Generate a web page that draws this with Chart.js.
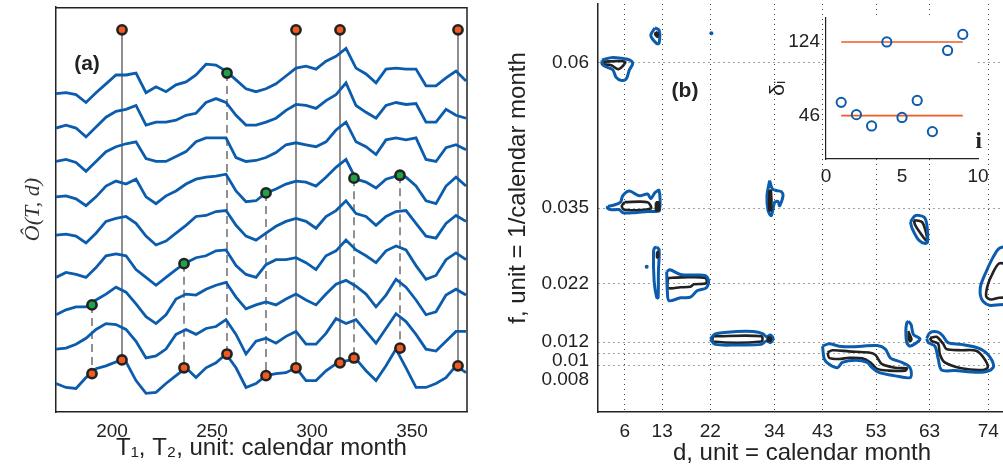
<!DOCTYPE html>
<html>
<head>
<meta charset="utf-8">
<script src="https://cdn.jsdelivr.net/npm/chart.js@4.4.1/dist/chart.umd.min.js"></script>
<style>
    html, body { margin: 0; padding: 0; background: #fff; width: 1003px; height: 474px; overflow: hidden; }
    canvas { position: absolute; top: 0; }
    #chart-a { left: 0; }
    #chart-b { left: 480px; }
    #chart-inset { left: 760px; }
</style>
</head>
<body>
<canvas id="chart-a" width="475" height="474"></canvas>
<canvas id="chart-b" width="530" height="474"></canvas>
<canvas id="chart-inset" width="243" height="200"></canvas>
<script>
// --- Panel (a): stacked O(T,d) curves ---
const monthT = [172, 177, 182, 187, 192, 197, 202, 207, 212, 217, 222, 227, 232, 237, 242, 247, 252, 257, 262, 267, 272,
    277, 282, 287, 292, 297, 302, 307, 312, 317, 322, 327, 332, 337, 342, 347, 352, 357, 362, 367, 372, 377];

const curve1 = [324, 325, 323, 315, 325, 334, 343, 343, 345, 325, 331, 326, 333, 336, 343, 354, 353, 347, 338, 329, 326,
    329, 334, 342, 350, 352, 349, 357, 362, 370, 350, 344, 335, 349, 350, 349, 349, 332, 332, 340, 347, 337];
const curve2 = [289, 292, 289, 280, 290, 300, 306, 308, 312, 292, 295, 295, 297, 302, 304, 315, 319, 315, 302, 292, 292,
    295, 299, 307, 313, 312, 309, 317, 323, 335, 312, 305, 299, 312, 315, 313, 314, 295, 295, 308, 302, 299];
const curve3 = [255, 257, 254, 245, 255, 265, 270, 273, 275, 258, 255, 255, 260, 265, 275, 279, 279, 279, 259, 255, 256,
    259, 264, 272, 274, 272, 270, 275, 287, 295, 275, 270, 262, 277, 279, 277, 279, 257, 255, 269, 272, 267];
const curve4 = [219, 220, 217, 210, 219, 230, 235, 232, 237, 219, 212, 220, 225, 232, 237, 239, 240, 242, 225, 214, 215,
    223, 227, 232, 235, 234, 230, 239, 249, 257, 237, 234, 228, 237, 240, 239, 230, 215, 212, 230, 239, 230];
const curve5 = [180, 181, 179, 172, 182, 194, 197, 199, 192, 179, 170, 174, 182, 190, 199, 200, 204, 205, 190, 179, 175,
    182, 189, 194, 197, 194, 187, 199, 205, 215, 202, 199, 190, 199, 204, 205, 192, 179, 177, 192, 200, 194];
const curve6 = [137, 142, 140, 137, 147, 159, 161, 159, 145, 137, 129, 137, 145, 152, 157, 159, 164, 165, 149, 140, 137,
    150, 155, 155, 157, 152, 145, 159, 164, 175, 165, 159, 152, 164, 169, 165, 149, 135, 139, 155, 162, 155];
const curve7 = [99, 104, 107, 107, 114, 120, 127, 122, 110, 97, 90, 99, 115, 120, 119, 125, 129, 132, 117, 105, 109,
    112, 109, 115, 120, 114, 109, 120, 130, 134, 128, 120, 107, 119, 135, 127, 114, 99, 102, 119, 125, 119];
const curve8 = [64, 65, 69, 75, 84, 90, 89, 84, 72, 55, 57, 64, 79, 84, 79, 85, 87, 94, 79, 59, 72,
    75, 70, 77, 82, 69, 69, 80, 95, 90, 94, 82, 70, 85, 100, 92, 79, 64, 62, 72, 82, 82];
const curve9 = [29, 25, 24, 35, 44, 47, 51, 51, 32, 19, 20, 29, 37, 45, 35, 45, 50, 59, 45, 25, 29,
    37, 39, 40, 45, 32, 32, 42, 49, 52, 54, 42, 32, 47, 64, 45, 25, 25, 29, 35, 47, 40];
const curves = [curve1, curve2, curve3, curve4, curve5, curve6, curve7, curve8, curve9];

// orange markers on top row and on the lowest curve
const topMarkT = [205, 292, 314, 373];
const topMarkLevel = 389;
const bottomMarkT = [190, 205, 236, 257.5, 277, 292, 314, 321, 344, 373];
const bottomMarkV = [39, 53, 45, 59, 37, 45, 50, 55, 65, 47];
// green markers (start of the dashed drops)
const greenMarkT = [257.5, 277, 321, 344, 236, 190];
const greenMarkV = [345, 223, 238, 241, 151, 109];
const xTicksA = [200, 250, 300, 350];

// --- Panel (b): contour outlines, [d, f] ---
const dTicks = [6, 13, 22, 34, 43, 53, 63, 74];
const fTicks = [0.008, 0.01, 0.012, 0.022, 0.035, 0.06];

const blueA = [[1.74, 0.0604], [3.47, 0.0608], [5.32, 0.0607], [6.87, 0.0604], [7.49, 0.0598], [6.87, 0.0587], [6.25, 0.0571],
    [5.32, 0.0569], [4.4, 0.0574], [3.78, 0.0587], [2.85, 0.0591], [1.93, 0.0595], [1.74, 0.0604]];
const blackA = [[1.74, 0.0601], [6.06, 0.0601], [4.83, 0.0588], [3.47, 0.0595], [1.74, 0.0597], [1.74, 0.0601]];
const blueB = [[11.62, 0.0659], [12.43, 0.0655], [12.43, 0.0633], [11.99, 0.0632], [10.88, 0.0646], [11.62, 0.0659]];
const blobB = [[11.81, 0.0652], [12.24, 0.065], [12.12, 0.0643], [11.62, 0.0648], [11.81, 0.0652]];
const blueD = [[2.85, 0.0353], [3.96, 0.0355], [5.2, 0.036], [5.63, 0.0371], [6.87, 0.0379], [8.72, 0.0371], [10.27, 0.0374],
    [10.88, 0.0366], [11.62, 0.0376], [12.43, 0.038], [12.49, 0.0346], [11.62, 0.0344], [10.27, 0.0344], [7.79, 0.0342],
    [5.63, 0.0342], [5.01, 0.0347], [3.47, 0.0347], [2.73, 0.035], [2.85, 0.0353]];
const blackD = [[5.94, 0.036], [10.27, 0.036], [10.88, 0.0349], [5.94, 0.0347], [5.45, 0.0353], [5.94, 0.036]];
const blobD = [[11.81, 0.036], [12.43, 0.036], [12.43, 0.0346], [11.81, 0.0346], [11.81, 0.036]];
const blueE = [[33.1, 0.0397], [33.6, 0.0383], [34.35, 0.038], [35.28, 0.0378], [35.6, 0.0371], [34.97, 0.0354], [34.66, 0.0361],
    [34.05, 0.036], [33.4, 0.0337], [32.8, 0.0346], [32.6, 0.0371], [33.1, 0.0397]];
const blobE = [[33.0, 0.038], [33.4, 0.038], [33.4, 0.0346], [33.0, 0.0346], [33.0, 0.038]];
const blueF = [[59.43, 0.0326], [60.35, 0.0337], [62.02, 0.0334], [62.52, 0.032], [62.64, 0.0292], [62.2, 0.0289],
    [60.97, 0.0295], [59.74, 0.0315], [59.43, 0.0326]];
const blackF = [[60.05, 0.0329], [61.59, 0.0326], [62.39, 0.0306], [62.52, 0.0293], [61.59, 0.0303], [60.35, 0.032], [60.05, 0.0329]];
const blueG = [[78, 0.0285], [76.05, 0.0281], [74.8, 0.0264], [73.6, 0.0241], [72.6, 0.0218], [72.5, 0.0201], [73.0, 0.019],
    [74.2, 0.0183], [76.05, 0.0184], [78, 0.0185]];
const blackG = [[78, 0.0252], [76.05, 0.0255], [74.8, 0.0238], [73.9, 0.0218], [73.6, 0.0198], [74.5, 0.0193], [76.05, 0.0196], [78, 0.0196]];
const blueH = [[11.99, 0.0283], [12.43, 0.0278], [12.3, 0.0241], [12.24, 0.0196], [11.99, 0.0196], [11.5, 0.0224],
    [11.38, 0.0275], [11.62, 0.0282], [11.99, 0.0283]];
const blobH = [[11.99, 0.0275], [12.24, 0.0275], [12.24, 0.0265], [11.99, 0.0265], [11.99, 0.0275]];
const blueI = [[13.85, 0.0241], [14.47, 0.0244], [16.44, 0.0236], [18.91, 0.0235], [21.07, 0.0234], [21.69, 0.0225], [21.26, 0.0213],
    [19.53, 0.0208], [18.29, 0.0197], [16.44, 0.0196], [14.28, 0.0191], [13.97, 0.0207], [13.85, 0.0241]];
const blackI = [[14.09, 0.023], [16.75, 0.0231], [21.07, 0.023], [21.26, 0.0221], [18.91, 0.0219], [18.29, 0.0215],
    [16.44, 0.0214], [14.09, 0.0213], [14.09, 0.023]];
const blueJ = [[22.0, 0.0125], [22.93, 0.0134], [26.94, 0.0138], [30.03, 0.0138], [31.88, 0.0134], [32.5, 0.0129], [33.24, 0.0132],
    [33.74, 0.0126], [33.24, 0.0119], [32.5, 0.0122], [31.57, 0.0116], [26.94, 0.0115], [22.93, 0.0116], [22.0, 0.0125]];
const blackJ = [[22.49, 0.013], [31.57, 0.013], [31.57, 0.0121], [22.49, 0.0121], [22.49, 0.013]];
const blobJ = [[32.7, 0.0128], [33.3, 0.0128], [33.3, 0.0122], [32.7, 0.0122], [32.7, 0.0128]];
const blueK = [[43.0, 0.0113], [44.24, 0.0117], [46.09, 0.0113], [48.56, 0.0112], [50.41, 0.0113], [53.19, 0.0114], [54.74, 0.0108],
    [55.66, 0.0093], [57.83, 0.0085], [59.06, 0.0079], [59.55, 0.0071], [59.37, 0.0059], [56.59, 0.0062], [53.5, 0.0068],
    [52.27, 0.0076], [51.34, 0.0085], [49.18, 0.0089], [46.71, 0.0085], [45.78, 0.0076], [44.24, 0.0082], [43.31, 0.0091], [43.0, 0.0113]];
const blackK = [[43.93, 0.0102], [44.85, 0.0106], [47.94, 0.0104], [51.65, 0.0102], [52.88, 0.0098], [54.12, 0.0082], [56.59, 0.0076],
    [58.75, 0.0075], [58.44, 0.0071], [55.35, 0.0071], [53.19, 0.0074], [51.96, 0.0085], [50.41, 0.0092], [47.94, 0.0093],
    [46.09, 0.0091], [44.24, 0.0093], [43.93, 0.0102]];
const blueL = [[59.06, 0.0156], [59.55, 0.015], [59.99, 0.0133], [61.22, 0.0125], [59.37, 0.0113], [58.75, 0.0119],
    [58.57, 0.0139], [58.75, 0.0153], [59.06, 0.0156]];
const blobL = [[59.06, 0.0139], [59.68, 0.0125], [59.37, 0.0121], [59.06, 0.0125], [59.06, 0.0139]];
const blueM = [[62.46, 0.0126], [63.08, 0.0136], [64.62, 0.0137], [65.55, 0.013], [66.47, 0.0119], [68.94, 0.0116], [72.03, 0.011],
    [73.88, 0.0099], [74.99, 0.0079], [74.19, 0.0071], [72.03, 0.0068], [67.71, 0.0071], [65.24, 0.0072], [64.62, 0.0091],
    [64.0, 0.0113], [62.77, 0.0119], [62.46, 0.0126]];
const blackM = [[63.08, 0.0127], [64.31, 0.0129], [65.55, 0.0117], [66.16, 0.0108], [68.94, 0.0106], [71.72, 0.0105], [73.27, 0.0091],
    [73.88, 0.0076], [72.65, 0.0072], [68.94, 0.0075], [65.85, 0.0085], [64.93, 0.0099], [64.62, 0.0117], [63.38, 0.0122], [63.08, 0.0127]];
const blueDots = [[22.2, 0.065], [10.1, 0.0249]];

// --- Inset: delta_i ---
const insetI = [1, 2, 3, 4, 5, 6, 7, 8, 9];
const insetDelta = [60, 47, 35, 124, 44, 62, 29, 115, 132];
const insetLevels = [46, 124];

// --- Styles ---
const BLUE = '#0b5cad';
const ORANGE = '#f15a22';
const GREEN = '#1fa24a';
const INK = '#222';
const sans = "'Liberation Sans', Arial, sans-serif";
const tickFont = { family: sans, size: 19 };
const titleFont = { family: sans, size: 24 };

const toPoints = pairs => pairs.map(([x, y]) => ({ x, y }));
const setTicks = values => scale => { scale.ticks = values.map(v => ({ value: v })); };

function outline(pairs, color, width) {
    return { data: toPoints(pairs), showLine: true, borderColor: color, borderWidth: width,
        pointRadius: 0, fill: false, tension: 0.3, order: 1 };
}
function blob(pairs) {
    return { data: toPoints(pairs), showLine: true, borderColor: INK, borderWidth: 2,
        backgroundColor: INK, pointRadius: 0, fill: 'shape', tension: 0.3, order: 0 };
}

// --- Chart (a) ---
const datasetsA = [];
function markers(xs, ys, color) {
    return { data: xs.map((x, i) => ({ x, y: ys[i] })), pointRadius: 4.6, pointBorderWidth: 2.6,
        pointBorderColor: INK, pointBackgroundColor: color, showLine: false, order: 0 };
}
datasetsA.push(markers(topMarkT, topMarkT.map(() => topMarkLevel), ORANGE));
datasetsA.push(markers(bottomMarkT, bottomMarkV, ORANGE));
datasetsA.push(markers(greenMarkT, greenMarkV, GREEN));

curves.forEach(values => {
    datasetsA.push({ data: monthT.map((t, i) => ({ x: t, y: values[i] })), showLine: true, borderColor: BLUE,
        borderWidth: 2.8, pointRadius: 0, tension: 0, order: 1 });
});

// solid drops from the top row, dashed drops from the green markers
topMarkT.forEach(t => {
    const bottom = bottomMarkV[bottomMarkT.indexOf(t)];
    datasetsA.push({ data: [{ x: t, y: topMarkLevel }, { x: t, y: bottom }], showLine: true,
        borderColor: '#444', borderWidth: 1.2, pointRadius: 0, order: 2 });
});
greenMarkT.forEach((t, i) => {
    const bottom = bottomMarkV[bottomMarkT.indexOf(t)];
    datasetsA.push({ data: [{ x: t, y: greenMarkV[i] }, { x: t, y: bottom }], showLine: true,
        borderColor: '#555', borderWidth: 1.3, borderDash: [8, 5], pointRadius: 0, order: 2 });
});

const frameA = {
    id: 'frameA',
    afterDraw(chart) {
        const { ctx, chartArea: a } = chart;
        ctx.save();
        ctx.strokeStyle = INK;
        ctx.lineWidth = 1.5;
        ctx.beginPath();
        ctx.moveTo(a.left, a.top + 0.5);
        ctx.lineTo(a.right, a.top + 0.5);
        ctx.lineTo(a.right, a.bottom);
        ctx.stroke();
        ctx.font = `bold 21px ${sans}`;
        ctx.fillStyle = INK;
        ctx.textAlign = 'center';
        ctx.textBaseline = 'middle';
        ctx.fillText('(a)', a.left + 31, a.top + 57);
        ctx.restore();
    }
};

const noGrid = { display: false, drawTicks: false };

new Chart(document.getElementById('chart-a'), {
    type: 'scatter',
    data: { datasets: datasetsA },
    options: {
        responsive: false,
        animation: false,
        layout: { padding: { top: 0, right: 8, bottom: 0, left: 0 } },
        plugins: { legend: { display: false }, tooltip: { enabled: false } },
        scales: {
            x: {
                type: 'linear', min: 172, max: 377.5,
                afterBuildTicks: setTicks(xTicksA),
                afterFit: scale => { scale.height = 62; },
                grid: noGrid,
                border: { color: INK, width: 1.5 },
                ticks: { font: tickFont, color: INK, padding: 8, maxRotation: 0 },
                title: { display: true, text: 'T\u2081, T\u2082, unit: calendar month', font: titleFont,
                    color: INK, padding: { top: 0, bottom: 11 } }
            },
            y: {
                min: 0, max: 412,
                afterFit: scale => { scale.width = 56; },
                grid: noGrid,
                border: { color: INK, width: 1.5 },
                ticks: { display: false },
                title: { display: true, text: '\u00d4(T, d)', color: '#333',
                    font: { family: "'Liberation Serif', 'DejaVu Serif', serif", size: 22, style: 'italic' },
                    padding: { top: 20, bottom: 0 } }
            }
        }
    },
    plugins: [frameA]
});

// --- Chart (b) ---
const datasetsB = [
    outline(blueA, BLUE, 3), outline(blackA, INK, 2.6),
    outline(blueB, BLUE, 3), blob(blobB),
    outline(blueD, BLUE, 3), outline(blackD, INK, 2.6), blob(blobD),
    outline(blueE, BLUE, 3), blob(blobE),
    outline(blueF, BLUE, 3), outline(blackF, INK, 2.6),
    outline(blueG, BLUE, 3), outline(blackG, INK, 2.6),
    outline(blueH, BLUE, 3), blob(blobH),
    outline(blueI, BLUE, 3), outline(blackI, INK, 2.6),
    outline(blueJ, BLUE, 3), outline(blackJ, INK, 2.6), blob(blobJ),
    outline(blueK, BLUE, 3), outline(blackK, INK, 2.6),
    outline(blueL, BLUE, 3), blob(blobL),
    outline(blueM, BLUE, 3), outline(blackM, INK, 2.6),
    { data: toPoints(blueDots), pointRadius: 2, pointBorderWidth: 0, pointBackgroundColor: BLUE, showLine: false }
];

// f tick labels, nudged apart where the grid lines crowd together
const fTickLabels = {
    id: 'fTickLabels',
    afterDraw(chart) {
        const { ctx, chartArea: a } = chart;
        const y = chart.scales.y;
        ctx.save();
        ctx.font = `${tickFont.size}px ${sans}`;
        ctx.fillStyle = INK;
        ctx.textAlign = 'right';
        ctx.textBaseline = 'middle';
        let prev = -Infinity;
        fTicks.slice().sort((p, q) => q - p).forEach(v => {
            const py = Math.max(y.getPixelForValue(v), prev + 19);
            ctx.fillText(String(v), a.left - 9, py);
            prev = py;
        });
        ctx.font = `bold 21px ${sans}`;
        ctx.textAlign = 'center';
        ctx.fillText('(b)', a.left + 87, a.top + 87);
        ctx.restore();
    }
};

const dottedGrid = { color: '#444', lineWidth: 1, drawTicks: false };

new Chart(document.getElementById('chart-b'), {
    type: 'scatter',
    data: { datasets: datasetsB },
    options: {
        responsive: false,
        animation: false,
        layout: { padding: 0 },
        plugins: { legend: { display: false }, tooltip: { enabled: false } },
        scales: {
            x: {
                type: 'linear', min: 1, max: 77.3,
                afterBuildTicks: setTicks(dTicks),
                afterFit: scale => { scale.height = 62; },
                grid: dottedGrid,
                border: { color: INK, width: 1.5, dash: [1, 4] },
                ticks: { font: tickFont, color: INK, padding: 8, maxRotation: 0 },
                title: { display: true, text: 'd, unit = calendar month', font: titleFont,
                    color: INK, padding: { top: 0, bottom: 6 } }
            },
            y: {
                min: 0, max: 0.07,
                afterBuildTicks: setTicks(fTicks),
                afterFit: scale => { scale.width = 118; },
                grid: dottedGrid,
                border: { color: INK, width: 1.5, dash: [1, 4] },
                ticks: { display: false },
                title: { display: true, text: '\u00a0'.repeat(6) + 'f, unit = 1/calendar month', font: titleFont,
                    color: INK, padding: { top: 24, bottom: 0 } }
            }
        }
    },
    plugins: [fTickLabels]
});

// --- Inset ---
const insetBackground = {
    id: 'insetBackground',
    beforeDraw(chart) {
        const { ctx, chartArea: a } = chart;
        ctx.save();
        ctx.fillStyle = '#fff';
        ctx.fillRect(a.left, a.top, a.right - a.left, a.bottom - a.top);
        ctx.restore();
    },
    afterDraw(chart) {
        const { ctx, chartArea: a } = chart;
        ctx.save();
        ctx.font = "bold 23px 'Liberation Serif', serif";
        ctx.fillStyle = INK;
        ctx.textAlign = 'right';
        ctx.textBaseline = 'alphabetic';
        ctx.fillText('i', a.right + 4, a.bottom - 11);
        ctx.restore();
    }
};

const insetDatasets = insetLevels.map(level => ({
    data: [{ x: insetI[0], y: level }, { x: insetI[insetI.length - 1], y: level }],
    showLine: true, borderColor: ORANGE, borderWidth: 1.6, pointRadius: 0, order: 1
}));
insetDatasets.push({
    data: insetI.map((i, k) => ({ x: i, y: insetDelta[k] })),
    showLine: false, pointRadius: 4.6, pointBorderWidth: 2, pointBorderColor: BLUE,
    pointBackgroundColor: 'rgba(255,255,255,0)', order: 0
});

new Chart(document.getElementById('chart-inset'), {
    type: 'scatter',
    data: { datasets: insetDatasets },
    options: {
        responsive: false,
        animation: false,
        layout: { padding: { top: 8, right: 25, bottom: 0, left: 0 } },
        plugins: { legend: { display: false }, tooltip: { enabled: false } },
        scales: {
            x: {
                type: 'linear', min: 0, max: 10,
                afterBuildTicks: setTicks([0, 5, 10]),
                afterFit: scale => { scale.height = 41; },
                grid: noGrid,
                border: { color: INK, width: 1.2 },
                ticks: { font: tickFont, color: INK, padding: 6, maxRotation: 0 }
            },
            y: {
                min: 0, max: 150,
                afterBuildTicks: setTicks(insetLevels),
                afterFit: scale => { scale.width = 66; },
                grid: noGrid,
                border: { color: INK, width: 1.2 },
                ticks: { font: tickFont, color: INK, padding: 6 },
                title: { display: true, text: '\u03b4\u1d62', color: INK,
                    font: { family: sans, size: 21 }, padding: { top: 6, bottom: 0 } }
            }
        }
    },
    plugins: [insetBackground]
});
</script>
</body>
</html>
